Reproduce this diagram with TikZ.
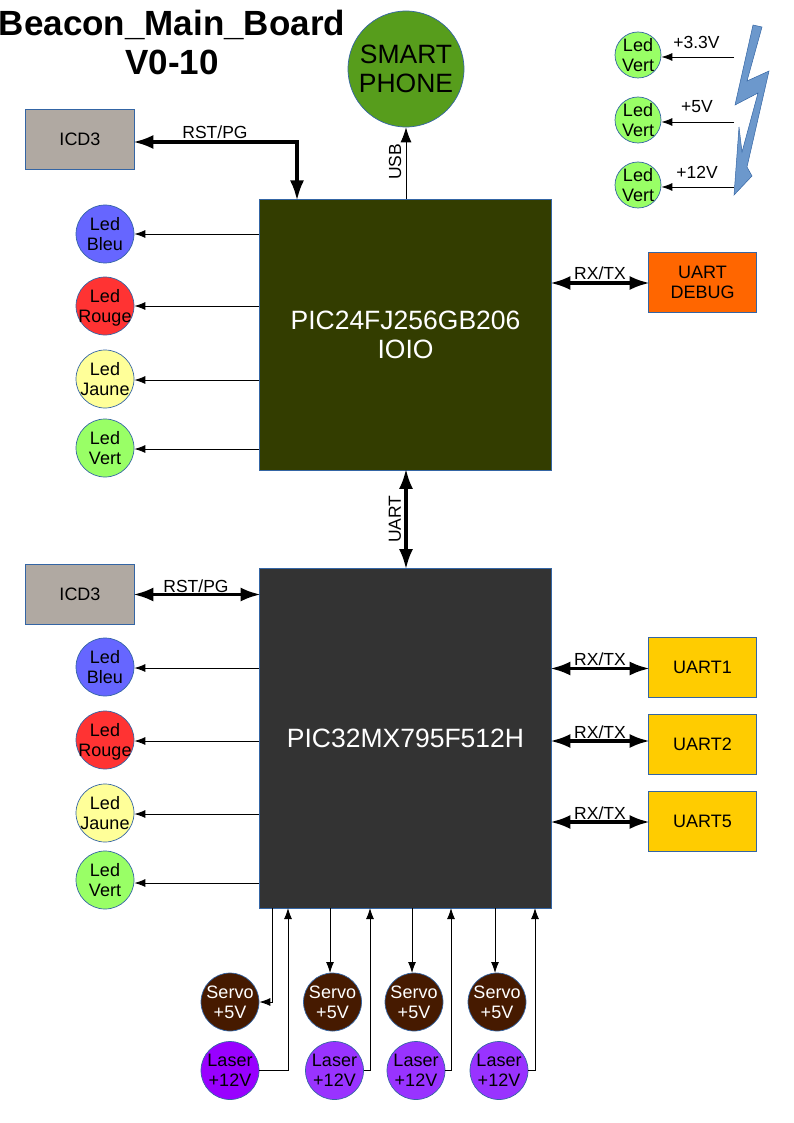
\documentclass[tikz,border=0pt]{standalone}
\usepackage{xcolor}
\usepackage{fontspec}
\setmainfont{Liberation Sans}
\usetikzlibrary{arrows.meta}
\definecolor{edgeblue}{HTML}{3465A4}
\definecolor{boltblue}{HTML}{6C98CC}
\definecolor{phonegreen}{HTML}{579D1C}
\definecolor{iochip}{HTML}{333D00}
\definecolor{mxchip}{HTML}{333333}
\definecolor{icdgray}{HTML}{B0A9A2}
\definecolor{debugorange}{HTML}{FF6600}
\definecolor{uartyellow}{HTML}{FFCC00}
\definecolor{ledblue}{HTML}{6666FF}
\definecolor{ledred}{HTML}{FF3333}
\definecolor{ledyellow}{HTML}{FFFF99}
\definecolor{ledgreen}{HTML}{99FF66}
\definecolor{servobrown}{HTML}{461A00}
\definecolor{laserone}{HTML}{9900FF}
\definecolor{laserviolet}{HTML}{9933FF}
\tikzset{
    chipbox/.style={draw=edgeblue, line width=0.7pt, minimum width=292pt, inner sep=0, align=center, text=white, font=\fontsize{26.5}{29}\selectfont},
    sidebox/.style={draw=edgeblue, line width=0.7pt, minimum width=108pt, minimum height=60pt, inner sep=0, align=center, font=\fontsize{18}{20}\selectfont},
    roundled/.style={circle, draw=edgeblue, line width=0.7pt, minimum size=58pt, inner sep=-9pt, align=center, font=\fontsize{18}{20}\selectfont},
    smallled/.style={roundled, minimum size=46pt, fill=ledgreen},
    wire/.style={line width=0.9pt, -{Latex[length=11pt,width=8pt]}},
    bus/.style={line width=3.2pt, {Latex[length=20pt,width=14pt]}-{Latex[length=20pt,width=14pt]}, shorten >=-1.5pt, shorten <=-1.5pt},
    lbl/.style={inner sep=0, font=\fontsize{17.5}{20}\selectfont}
}
\begin{document}
\begin{tikzpicture}[x=1pt, y=-1pt]
    \useasboundingbox (0,0) rectangle (794,1123);

    \node[inner sep=0, align=center, font=\fontsize{35}{39}\selectfont\bfseries] (title) at (172,42) {Beacon\_Main\_Board\\V0-10};

    \node[circle, draw=edgeblue, line width=0.7pt, fill=phonegreen, minimum size=116pt, inner sep=-20pt, align=center, font=\fontsize{26.5}{29}\selectfont] (phone) at (406,69) {SMART\\PHONE};

    \node[chipbox, fill=iochip, minimum height=271pt] (pic24) at (405.5,334.5) {PIC24FJ256GB206\\IOIO};
    \node[chipbox, fill=mxchip, minimum height=340pt] (pic32) at (405.5,738) {PIC32MX795F512H};

    \node[sidebox, fill=icdgray, minimum width=109pt] (icdtop) at (80,139.5) {ICD3};
    \node[sidebox, fill=icdgray, minimum width=109pt] (icdlow) at (80,594.5) {ICD3};
    \node[sidebox, fill=debugorange] (debug) at (702.5,282) {UART\\DEBUG};
    \node[sidebox, fill=uartyellow] (uartone) at (702.5,667) {UART1};
    \node[sidebox, fill=uartyellow] (uarttwo) at (702.5,744) {UART2};
    \node[sidebox, fill=uartyellow] (uartfive) at (702.5,821) {UART5};

    \node[roundled, fill=ledblue] (bleutop) at (105,234) {Led\\Bleu};
    \node[roundled, fill=ledred, text depth=0pt] (rougetop) at (105,306) {Led\\Rouge};
    \node[roundled, fill=ledyellow] (jaunetop) at (105,379) {Led\\Jaune};
    \node[roundled, fill=ledgreen] (verttop) at (105,448) {Led\\Vert};
    \node[roundled, fill=ledblue] (bleulow) at (105,667) {Led\\Bleu};
    \node[roundled, fill=ledred, text depth=0pt] (rougelow) at (105,740) {Led\\Rouge};
    \node[roundled, fill=ledyellow] (jaunelow) at (105,813) {Led\\Jaune};
    \node[roundled, fill=ledgreen] (vertlow) at (105,880) {Led\\Vert};

    \node[smallled] (vertthree) at (638,55) {Led\\Vert};
    \node[smallled] (vertfive) at (638,120) {Led\\Vert};
    \node[smallled] (verttwelve) at (638,185) {Led\\Vert};

    \fill[boltblue, draw=edgeblue, line width=0.5pt] (753,25) -- (762,27) -- (747,81) -- (769,71) -- (747,167) -- (752,176) -- (734,195) -- (739,127) -- (742,152) -- (758,93) -- (735,105) -- cycle;
    \coordinate (boltthree) at (734,57);
    \coordinate (boltfive) at (734,122);
    \coordinate (bolttwelve) at (734,187);
    \draw[wire] (boltthree) -- (vertthree.east |- boltthree);
    \draw[wire] (boltfive) -- (vertfive.east |- boltfive);
    \draw[wire] (bolttwelve) -- (verttwelve.east |- bolttwelve);
    \node[lbl] (threelbl) at (696.5,42) {+3.3V};
    \node[lbl] (fivelbl) at (697,107) {+5V};
    \node[lbl] (twelvelbl) at (697,172) {+12V};

    \foreach \led/\ypos in {bleutop/234,rougetop/306,jaunetop/380,verttop/449}
        \draw[wire] (pic24.west |- 0,\ypos) -- (\led.east |- 0,\ypos);
    \foreach \led/\ypos in {bleulow/668,rougelow/741,jaunelow/814,vertlow/883}
        \draw[wire] (pic32.west |- 0,\ypos) -- (\led.east |- 0,\ypos);

    \coordinate (resettop) at (297,199);
    \draw[bus] (icdtop.east |- 0,142) -- (297,142) -- (resettop);
    \node[lbl] (rsttop) at (215,132) {RST/PG};
    \draw[bus] (icdlow.east) -- (pic32.west |- icdlow);
    \node[lbl] (rstlow) at (196,586) {RST/PG};

    \draw[wire, -{Latex[length=15pt,width=11pt]}] (pic24.north -| phone) -- (phone.south);
    \node[lbl, rotate=90] (usblbl) at (395,162) {USB};
    \draw[bus] (pic24.south -| phone) -- (pic32.north -| phone);
    \node[lbl, rotate=90] (uartlbl) at (395,519) {UART};

    \draw[bus] (pic24.east |- 0,283) -- (debug.west |- 0,283);
    \node[lbl] (rxdebug) at (600,273) {RX/TX};
    \draw[bus] (pic32.east |- 0,668.5) -- (uartone.west |- 0,668.5);
    \node[lbl] (rxone) at (600,659) {RX/TX};
    \draw[bus] (pic32.east |- 0,741) -- (uarttwo.west |- 0,741);
    \node[lbl] (rxtwo) at (600,732) {RX/TX};
    \draw[bus] (pic32.east |- 0,822) -- (uartfive.west |- 0,822);
    \node[lbl] (rxfive) at (600,813) {RX/TX};

    \node[roundled, fill=servobrown, text=white] (servoa) at (230,1002) {Servo\\+5V};
    \node[roundled, fill=servobrown, text=white] (servob) at (332.5,1002) {Servo\\+5V};
    \node[roundled, fill=servobrown, text=white] (servoc) at (414,1002) {Servo\\+5V};
    \node[roundled, fill=servobrown, text=white] (servod) at (497,1002) {Servo\\+5V};
    \node[roundled, fill=laserone] (lasera) at (230,1070.5) {Laser\\+12V};
    \node[roundled, fill=laserviolet] (laserb) at (334.5,1070.5) {Laser\\+12V};
    \node[roundled, fill=laserviolet] (laserc) at (416,1070.5) {Laser\\+12V};
    \node[roundled, fill=laserviolet] (laserd) at (499,1070.5) {Laser\\+12V};

    \coordinate (drivea) at (272.5,908);
    \draw[wire] (drivea) |- (servoa.east);
    \foreach \servo/\xpos in {servob/330,servoc/412,servod/495}
        \draw[wire] (\xpos,908) -- (\xpos,973);
    \foreach \laser/\xpos in {lasera/288,laserb/370,laserc/451,laserd/535}
        \draw[wire] (\laser.east) -| (\xpos,908);
\end{tikzpicture}
\end{document}
